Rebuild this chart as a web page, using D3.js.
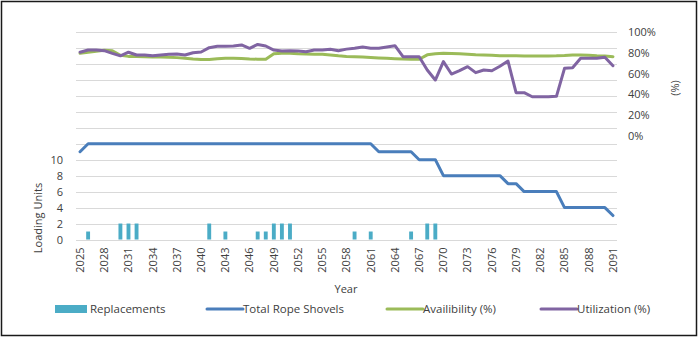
<!DOCTYPE html>
<html>
<head>
<meta charset="utf-8">
<script src="https://cdn.jsdelivr.net/npm/d3@7"></script>
<style>
  body { margin: 0; background: #fff; }
  text { font-family: "Open Sans", sans-serif; fill: #404040; }
</style>
</head>
<body>
<div id="vis"></div>
<script>
// Data
const years = d3.range(2025, 2092);

const replacements = [
  {year: 2026, value: 1}, {year: 2030, value: 2}, {year: 2031, value: 2}, {year: 2032, value: 2},
  {year: 2041, value: 2}, {year: 2043, value: 1}, {year: 2047, value: 1}, {year: 2048, value: 1},
  {year: 2049, value: 2}, {year: 2050, value: 2}, {year: 2051, value: 2}, {year: 2059, value: 1},
  {year: 2061, value: 1}, {year: 2066, value: 1}, {year: 2068, value: 2}, {year: 2069, value: 2}
];

// 2025 .. 2091
const totalShovels = [
  11, 12, 12, 12, 12, 12, 12, 12, 12, 12,
  12, 12, 12, 12, 12, 12, 12, 12, 12, 12,
  12, 12, 12, 12, 12, 12, 12, 12, 12, 12,
  12, 12, 12, 12, 12, 12, 12, 11, 11, 11,
  11, 11, 10, 10, 10, 8, 8, 8, 8, 8,
  8, 8, 8, 7, 7, 6, 6, 6, 6, 6,
  4, 4, 4, 4, 4, 4, 3
];

const availability = [
  79.5, 80.5, 81.5, 82.5, 82, 77.5, 76.5, 76.5, 76.2, 76,
  75.8, 75.6, 75.3, 74.8, 74, 73.5, 73.5, 74.2, 74.6, 74.6,
  74.4, 74, 73.8, 73.8, 79, 79.4, 79.4, 79, 78.8, 78.5,
  78.5, 77.8, 77, 76.5, 76.2, 75.8, 75.4, 75, 74.6, 74.3,
  74, 73.7, 73.7, 78, 79, 79.4, 79.2, 79, 78.5, 78,
  77.8, 77.5, 77.2, 77, 77, 76.9, 76.9, 76.9, 76.9, 77,
  77.3, 77.8, 77.8, 77.5, 77, 76.8, 76.2
];

const utilization = [
  80.5, 82.6, 82.6, 82, 79.4, 77, 80.5, 77.8, 77.8, 77,
  77.8, 78.5, 78.8, 77.8, 80, 80.7, 84.9, 86.2, 86.2, 86.5,
  87.5, 84.3, 88, 86.5, 82.6, 81.7, 82, 81.7, 81, 82.6,
  82.6, 83.3, 82, 83.5, 84.3, 85.5, 84.3, 84.3, 85.5, 86.8,
  76.2, 76.2, 76.2, 63.4, 53.7, 71.4, 59.5, 62.7, 66.6, 60.8,
  63.4, 62.7, 67, 72, 41.5, 41.5, 37.6, 37.6, 37.6, 38,
  65, 65.6, 74.6, 74.6, 74.6, 75.6, 67.5
];

const leftTicks = [0, 2, 4, 6, 8, 10];
const rightTicks = [0, 0.2, 0.4, 0.6, 0.8, 1];
const xTickYears = years.filter(y => (y - 2025) % 3 === 0);

const colors = {
  bars: "#4BACC6",
  total: "#4A7EBB",
  avail: "#9BBB59",
  util: "#8064A2"
};

const width = 700;
const height = 339;
const plot = {left: 76, right: 617, top: 32, bottom: 239.5};

const svg = d3.select("#vis").append("svg")
  .attr("width", width)
  .attr("height", height);

svg.append("rect")
  .attr("width", width).attr("height", height)
  .attr("fill", "#fff");

// frame
svg.append("rect")
  .attr("x", 1.5).attr("y", 1.5)
  .attr("width", 695).attr("height", 334)
  .attr("fill", "none")
  .attr("stroke", "#1a1a1a")
  .attr("stroke-width", 1.5);

const x = d3.scaleBand()
  .domain(years)
  .range([plot.left, plot.right]);

const yL = d3.scaleLinear()
  .domain([0, 26])
  .range([plot.bottom, plot.top]);

const yR = d3.scaleLinear()
  .domain([-1, 1])
  .range([plot.bottom, plot.top]);

const cx = y => x(y) + x.bandwidth() / 2;

// gridlines
svg.append("g")
  .selectAll("line")
  .data(d3.range(0, 27, 2))
  .join("line")
  .attr("x1", plot.left).attr("x2", plot.right)
  .attr("y1", d => Math.round(yL(d)) + 0.5)
  .attr("y2", d => Math.round(yL(d)) + 0.5)
  .attr("stroke", "#d9d9d9")
  .attr("stroke-width", 1);

// bars
const barW = x.bandwidth() * 0.48;
svg.append("g")
  .selectAll("rect")
  .data(replacements)
  .join("rect")
  .attr("x", d => cx(d.year) - barW / 2)
  .attr("y", d => yL(d.value))
  .attr("width", barW)
  .attr("height", d => yL(0) - yL(d.value))
  .attr("fill", colors.bars);

// lines
function drawLine(values, yScale, color) {
  const line = d3.line()
    .x((d, i) => cx(years[i]))
    .y(d => yScale(d));
  svg.append("path")
    .datum(values)
    .attr("d", line)
    .attr("fill", "none")
    .attr("stroke", color)
    .attr("stroke-width", 3)
    .attr("stroke-linejoin", "round")
    .attr("stroke-linecap", "round");
}

drawLine(totalShovels, yL, colors.total);
drawLine(availability.map(v => v / 100), yR, colors.avail);
drawLine(utilization.map(v => v / 100), yR, colors.util);

// axes
const xAxis = svg.append("g")
  .attr("transform", `translate(0,${plot.bottom})`)
  .call(d3.axisBottom(x).tickValues(xTickYears).tickSize(0));
xAxis.select(".domain").remove();
xAxis.selectAll("text")
  .attr("transform", "rotate(-90)")
  .attr("text-anchor", "end")
  .attr("x", -8)
  .attr("y", 0)
  .attr("dy", "0.35em")
  .style("font-size", "11px");

const leftAxis = svg.append("g")
  .attr("transform", `translate(${plot.left},0)`)
  .call(d3.axisLeft(yL).tickValues(leftTicks).tickSize(0).tickPadding(13));
leftAxis.select(".domain").remove();
leftAxis.selectAll("text").style("font-size", "11px");

const rightAxis = svg.append("g")
  .attr("transform", `translate(${plot.right},0)`)
  .call(d3.axisRight(yR).tickValues(rightTicks).tickFormat(d3.format(".0%")).tickSize(0).tickPadding(11));
rightAxis.select(".domain").remove();
rightAxis.selectAll("text").style("font-size", "11px");

// axis titles
svg.append("text")
  .attr("transform", "translate(38,218) rotate(-90)")
  .attr("text-anchor", "middle")
  .attr("dy", "0.35em")
  .style("font-size", "11px")
  .text("Loading Units");

svg.append("text")
  .attr("transform", "translate(675,88) rotate(-90)")
  .attr("text-anchor", "middle")
  .attr("dy", "0.35em")
  .style("font-size", "11px")
  .text("(%)");

svg.append("text")
  .attr("x", 346).attr("y", 289)
  .attr("text-anchor", "middle")
  .attr("dy", "0.35em")
  .style("font-size", "11px")
  .text("Year");

// legend
const legendItems = [
  {label: "Replacements", color: colors.bars, type: "bar", x: 55},
  {label: "Total Rope Shovels", color: colors.total, type: "line", x: 207},
  {label: "Availibility (%)", color: colors.avail, type: "line", x: 387},
  {label: "Utilization (%)", color: colors.util, type: "line", x: 541}
];
const legendY = 309;
const legend = svg.append("g")
  .selectAll("g")
  .data(legendItems)
  .join("g")
  .attr("transform", d => `translate(${d.x},${legendY})`);

legend.filter(d => d.type === "bar")
  .append("rect")
  .attr("x", 0).attr("y", -4)
  .attr("width", 32).attr("height", 8)
  .attr("fill", d => d.color);

legend.filter(d => d.type === "line")
  .append("line")
  .attr("x1", 0).attr("x2", 36)
  .attr("stroke", d => d.color)
  .attr("stroke-width", 3)
  .attr("stroke-linecap", "round");

legend.append("text")
  .attr("x", d => d.type === "bar" ? 35 : 36)
  .attr("dy", "0.35em")
  .style("font-size", "11.5px")
  .text(d => d.label);
</script>
</body>
</html>
